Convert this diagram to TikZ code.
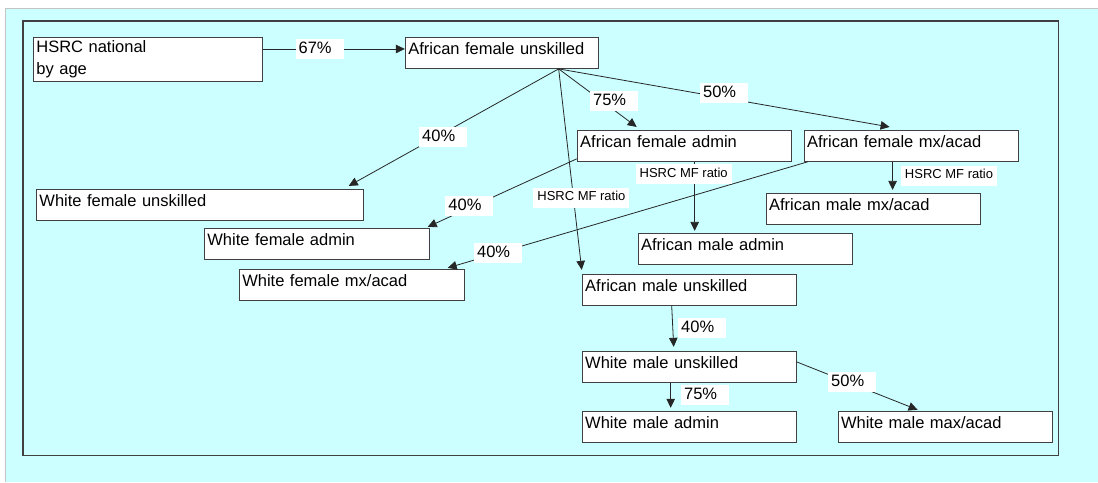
\documentclass[tikz,border=0pt]{standalone}
\usepackage{fontspec}
\setmainfont{Liberation Sans}
\usetikzlibrary{arrows.meta,positioning,calc}
\definecolor{pagecyan}{HTML}{CCFFFF}
\definecolor{ink}{HTML}{262626}
\definecolor{edgegray}{HTML}{404040}
\definecolor{rimgray}{HTML}{C4C4C4}
\tikzset{
  cellframe/.style={
    draw=edgegray, fill=white, line width=0.9pt, anchor=north west,
    align=left, inner xsep=3pt, inner ysep=3pt,
    font=\fontsize{16.5}{22}\selectfont
  },
  cellbox/.style={
    cellframe, text width=#1, text height=14.5pt, text depth=10.5pt
  },
  cellbox/.default=208pt,
  pct/.style={
    fill=white, inner xsep=3pt, inner ysep=3pt, text width=42pt, align=left,
    text height=12pt, text depth=2.5pt, font=\fontsize{16.5}{18}\selectfont
  },
  ratiolbl/.style={
    fill=white, inner xsep=4pt, inner ysep=3pt,
    text height=10pt, text depth=4pt, font=\fontsize{13}{14}\selectfont
  },
  flow/.style={draw=ink, line width=0.8pt, -{Triangle[length=9pt,width=8.5pt]}}
}

\begin{document}
\begin{tikzpicture}[x=1pt,y=-1pt]
  % page and frame
  \fill[white] (0,0) rectangle (1098,482);
  \fill[pagecyan] (6,9) rectangle (1098,482);
  \draw[rimgray, line width=1pt] (5.5,482) -- (5.5,8.5) -- (1098,8.5);
  \draw[edgegray, line width=1.3pt] (23,21) rectangle (1059,456);
  \useasboundingbox (0,0) rectangle (1098,482);

  % boxes
  \node[cellframe, text width=223pt, minimum height=44pt, inner ysep=2pt] (hsrc) at (33,37) {HSRC national\\by age};
  \node[cellbox=187pt] (afu) at (405,37) {African female unskilled};
  \node[cellbox=321pt] (wfu) at (36,189) {White female unskilled};
  \node[cellbox=219pt] (wfa) at (204,228) {White female admin};
  \node[cellbox=219pt] (wfm) at (239,269) {White female mx/acad};
  \node[cellbox] (afa) at (577,130) {African female admin};
  \node[cellbox] (afm) at (804,130) {African female mx/acad};
  \node[cellbox] (amm) at (766,193) {African male mx/acad};
  \node[cellbox] (ama) at (638,233) {African male admin};
  \node[cellbox] (amu) at (582,274) {African male unskilled};
  \node[cellbox] (wmu) at (582,351) {White male unskilled};
  \node[cellbox] (wma) at (582,411) {White male admin};
  \node[cellbox] (wmm) at (838,411) {White male max/acad};

  % connectors
  \draw[flow] ([yshift=-12pt]hsrc.north east) -- node[pct, pos=0.40] (l67) {67\%} ([yshift=-12pt]afu.north west);
  \draw[flow] ([xshift=-40pt]afu.south east) -- node[pct, pos=0.55, yshift=-4pt] (lwfu) {40\%} ([xshift=-15pt,yshift=3pt]wfu.north east);
  \draw[flow] ([xshift=-40pt]afu.south east) -- node[ratiolbl, pos=0.64, xshift=8pt] (lamu) {HSRC MF ratio} ([yshift=4pt]amu.north west);
  \draw[flow] ([xshift=-40pt]afu.south east) -- node[pct, pos=0.71, yshift=9pt] (lafa) {75\%} ([xshift=60pt,yshift=3pt]afa.north west);
  \draw[flow] ([xshift=-40pt]afu.south east) -- node[pct, pos=0.5, yshift=5pt] (lafm) {50\%} ([xshift=86pt,yshift=3pt]afm.north west);
  \draw[flow] ([yshift=3pt]afa.south west) -- node[pct, pos=0.72, yshift=2pt] (lwfa) {40\%} ([xshift=-2pt,yshift=1pt]wfa.north east);
  \draw[flow] ([xshift=4pt]afm.south west) -- node[pct, pos=0.86] (lwfm) {40\%} ([xshift=-17pt,yshift=1pt]wfm.north east);
  \draw[flow] ([xshift=118pt]afa.south west) -- node[ratiolbl, pos=0.18, xshift=-11pt] (lama) {HSRC MF ratio} ([xshift=57pt,yshift=2pt]ama.north west);
  \draw[flow] ([xshift=89pt]afm.south west) -- node[ratiolbl, pos=0.5, anchor=west, xshift=8pt] (lamm) {HSRC MF ratio} ([xshift=127pt,yshift=3pt]amm.north west);
  \draw[flow] ([xshift=90pt]amu.south west) -- node[pct, pos=0.54, anchor=west, xshift=5pt] (lwmu) {40\%} ([xshift=92pt,yshift=4pt]wmu.north west);
  \draw[flow] ([xshift=89pt]wmu.south west) -- node[pct, pos=0.48, anchor=west, xshift=10pt] (lwma) {75\%} ([xshift=89pt,yshift=3pt]wma.north west);
  \draw[flow] ([yshift=-11pt]wmu.north east) -- node[pct, pos=0.46, yshift=2pt] (lwmm) {50\%} ([xshift=80pt,yshift=1pt]wmm.north west);
\end{tikzpicture}
\end{document}
